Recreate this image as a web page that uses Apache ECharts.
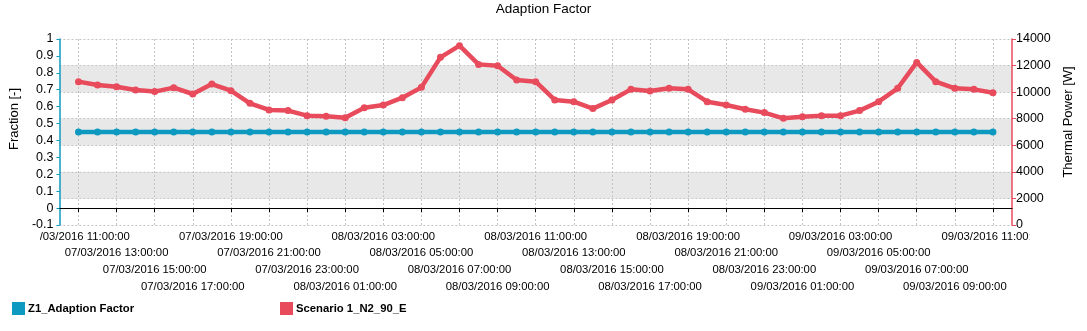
<!DOCTYPE html>
<html>
<head>
<meta charset="utf-8">
<script src="https://cdn.jsdelivr.net/npm/echarts@6/dist/echarts.min.js"></script>
<style>
html,body{margin:0;padding:0;background:#fff;}
#chart{width:1087px;height:331px;}
</style>
</head>
<body>
<div id="chart"></div>
<script>
// Hourly categories from 07/03/2016 10:00 to 09/03/2016 12:00 (first/last are padding slots)
var days = ['07/03/2016', '08/03/2016', '09/03/2016'];
var categories = [];
(function () {
  for (var d = 0; d < days.length; d++) {
    for (var h = 0; h < 24; h++) {
      var t = d * 24 + h;
      if (t < 10 || t > 60) continue;
      categories.push(days[d] + ' ' + (h < 10 ? '0' : '') + h + ':00:00');
    }
  }
})();

var seriesNames = ['Z1_Adaption Factor', 'Scenario 1_N2_90_E'];

// Z1_Adaption Factor (fraction), hourly 07/03 11:00 .. 09/03 11:00
var adaptionFactor = [
  0.45, 0.45, 0.45, 0.45, 0.45, 0.45, 0.45, 0.45, 0.45, 0.45,
  0.45, 0.45, 0.45, 0.45, 0.45, 0.45, 0.45, 0.45, 0.45, 0.45,
  0.45, 0.45, 0.45, 0.45, 0.45, 0.45, 0.45, 0.45, 0.45, 0.45,
  0.45, 0.45, 0.45, 0.45, 0.45, 0.45, 0.45, 0.45, 0.45, 0.45,
  0.45, 0.45, 0.45, 0.45, 0.45, 0.45, 0.45, 0.45, 0.45
];

// Scenario 1_N2_90_E thermal power [W], hourly 07/03 11:00 .. 09/03 11:00
var thermalPower = [
  10790, 10540, 10410, 10160, 10040, 10340, 9860, 10610, 10110, 9160,
  8660, 8610, 8230, 8180, 8080, 8830, 9030, 9580, 10360, 12620,
  13500, 12090, 11990, 10910, 10790, 9410, 9280, 8760, 9410, 10210,
  10090, 10290, 10210, 9280, 9030, 8710, 8460, 8030, 8150, 8230,
  8230, 8610, 9280, 10290, 12240, 10790, 10290, 10210, 9960
];

var teal = '#0E9AC0';
var red = '#E84B5C';

function pad(arr) { return [null].concat(arr, [null]); }
function shown(i) { return i % 2 === 1; }
function inRow(i, row) { return shown(i) && ((i - 1) / 2) % 4 === row; }

var chart = echarts.init(document.getElementById('chart'), null, { renderer: 'canvas' });
var fontFamily = '"Liberation Sans", Arial, sans-serif';

// Four stacked label rows on the same bottom category axis
var xAxes = [];
for (var r = 0; r < 4; r++) {
  (function (row) {
    xAxes.push({
      type: 'category',
      data: categories,
      boundaryGap: false,
      position: 'bottom',
      axisLine: { show: row === 0, lineStyle: { color: '#000', width: 1 } },
      axisTick: { show: row === 0, interval: function (i) { return shown(i); }, length: 4, lineStyle: { color: '#000' } },
      splitLine: { show: row === 0, interval: function (i) { return shown(i); }, lineStyle: { color: '#c4c4c4', type: [2, 2], width: 1 } },
      axisLabel: {
        interval: function (i) { return inRow(i, row); },
        showMinLabel: row === 0 ? true : null,
        showMaxLabel: row === 0 ? true : null,
        hideOverlap: false,
        margin: 6 + row * 16.7,
        fontSize: 11.3,
        color: '#000',
        fontFamily: fontFamily
      }
    });
  })(r);
}

chart.setOption({
  animation: false,
  backgroundColor: '#fff',
  textStyle: { fontFamily: fontFamily },
  title: {
    text: 'Adaption Factor',
    left: 'center',
    top: 2,
    padding: 0,
    textStyle: { fontSize: 13.5, fontWeight: 'normal', color: '#000', fontFamily: fontFamily }
  },
  legend: [
    {
      data: [seriesNames[0]], left: 12, top: 302, padding: 0,
      icon: 'rect', itemWidth: 13, itemHeight: 13, itemGap: 0,
      textStyle: { fontSize: 11.3, fontWeight: 'bold', color: '#000', padding: [0, 0, 0, -2], fontFamily: fontFamily }
    },
    {
      data: [seriesNames[1]], left: 280, top: 302, padding: 0,
      icon: 'rect', itemWidth: 13, itemHeight: 13, itemGap: 0,
      textStyle: { fontSize: 11.3, fontWeight: 'bold', color: '#000', padding: [0, 0, 0, -2], fontFamily: fontFamily }
    }
  ],
  grid: { left: 58, right: 75, top: 39, bottom: 106, containLabel: false },
  xAxis: xAxes,
  yAxis: [
    {
      type: 'value',
      position: 'left',
      min: -0.1, max: 1, interval: 0.1,
      name: 'Fraction [-]',
      nameLocation: 'middle',
      nameRotate: 90,
      nameGap: 37,
      nameTextStyle: { fontSize: 13, color: '#000', padding: [0, 0, 0, 26], fontFamily: fontFamily },
      axisLine: { show: true, lineStyle: { color: teal, width: 1.5 } },
      axisTick: { show: true, length: 3, lineStyle: { color: teal } },
      splitLine: { show: false },
      axisLabel: {
        fontSize: 12.5, color: '#000', margin: 6, fontFamily: fontFamily,
        formatter: function (v) { return String(Math.round(v * 10) / 10); }
      }
    },
    {
      type: 'value',
      position: 'right',
      min: 0, max: 14000, interval: 2000,
      name: 'Thermal Power [W]',
      nameLocation: 'middle',
      nameRotate: 90,
      nameGap: 50,
      nameTextStyle: { fontSize: 13, color: '#000', padding: [0, 0, 0, 20], fontFamily: fontFamily },
      axisLine: { show: true, lineStyle: { color: red, width: 1.5 } },
      axisTick: { show: true, length: 4, lineStyle: { color: red } },
      splitLine: { show: true, lineStyle: { color: '#c4c4c4', type: [2, 2], width: 1 } },
      splitArea: { show: true, areaStyle: { color: ['rgba(0,0,0,0)', '#E8E8E8'] } },
      axisLabel: {
        fontSize: 12.5, color: '#000', margin: 4, fontFamily: fontFamily,
        formatter: function (v) { return String(Math.round(v)); }
      }
    }
  ],
  series: [
    {
      name: seriesNames[0],
      type: 'line',
      xAxisIndex: 0,
      yAxisIndex: 0,
      data: pad(adaptionFactor),
      color: teal,
      symbol: 'circle',
      symbolSize: 7,
      showAllSymbol: true,
      lineStyle: { width: 4.5, color: teal },
      itemStyle: { color: teal },
      z: 3
    },
    {
      name: seriesNames[1],
      type: 'line',
      xAxisIndex: 0,
      yAxisIndex: 1,
      data: pad(thermalPower),
      color: red,
      symbol: 'circle',
      symbolSize: 7,
      showAllSymbol: true,
      lineStyle: { width: 4.5, color: red },
      itemStyle: { color: red },
      z: 4
    }
  ],
  graphic: [
    { type: 'rect', left: 0, top: 228, shape: { width: 40, height: 17 }, style: { fill: '#fff' }, z: 100, silent: true },
    { type: 'rect', left: 1030, top: 228, shape: { width: 57, height: 17 }, style: { fill: '#fff' }, z: 100, silent: true }
  ]
});
</script>
</body>
</html>
